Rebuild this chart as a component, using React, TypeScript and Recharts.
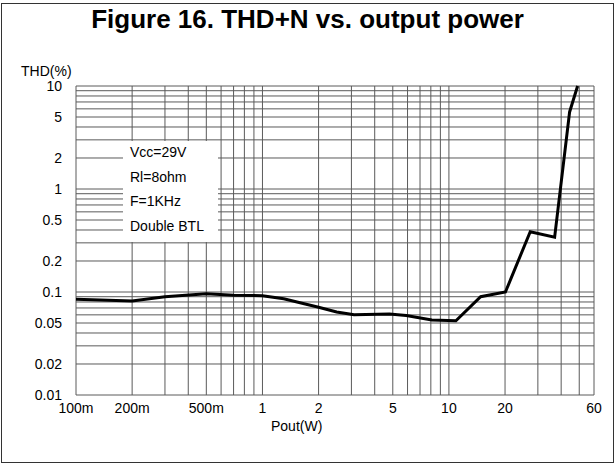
import React from 'react';
import { LineChart, Line, XAxis, YAxis, ReferenceLine } from 'recharts';

// Pout (W) vs THD+N (%)
const pout = [0.1, 0.2, 0.3, 0.5, 0.7, 1, 1.3, 2, 2.5, 3.1, 4.8, 5.9, 8.1, 10.9, 14.8, 20.1, 27.3, 36.9, 44.4, 49];
const thd = [0.085, 0.082, 0.09, 0.096, 0.093, 0.092, 0.086, 0.071, 0.064, 0.06, 0.061, 0.059, 0.0535, 0.0526, 0.09, 0.1, 0.385, 0.34, 5.6, 10];

const xTicks = [0.1, 0.2, 0.5, 1, 2, 5, 10, 20, 60];
const yTicks = [0.01, 0.02, 0.05, 0.1, 0.2, 0.5, 1, 2, 5, 10];
const xDecades = [0.1, 1, 10];
const yDecades = [0.01, 0.1, 1];
const steps = [1, 2, 3, 4, 5, 6, 7, 8, 9];

const notes = ['Vcc=29V', 'Rl=8ohm', 'F=1KHz', 'Double BTL'];

const xGrid = xDecades.flatMap((d) => steps.map((s) => +(d * s).toPrecision(3))).filter((v) => v <= 60);
const yGrid = [...yDecades.flatMap((d) => steps.map((s) => +(d * s).toPrecision(3))), 10];

const data = pout.map((p, i) => ({ pout: p, thd: thd[i] }));

const fmtX = (v: number) => (v < 1 ? `${Math.round(v * 1000)}m` : `${v}`);

const font = '"Liberation Sans", Arial, sans-serif';
const gridColor = '#5a5a5a';

export default function App() {
  return (
    <div
      style={{
        position: 'absolute',
        left: 0,
        top: 0,
        width: 615,
        height: 463,
        background: '#fff',
        fontFamily: font,
      }}
    >
      <div
        style={{
          position: 'absolute',
          left: 1,
          top: 3,
          width: 613,
          height: 460,
          border: '1px solid #333',
          boxSizing: 'border-box',
        }}
      />
      <div
        style={{
          position: 'absolute',
          left: 0,
          width: 615,
          top: 4,
          textAlign: 'center',
          fontSize: 26,
          fontWeight: 'bold',
          color: '#000',
          lineHeight: '30px',
        }}
      >
        Figure 16. THD+N vs. output power
      </div>
      <div style={{ position: 'absolute', left: 21, top: 63, fontSize: 14, lineHeight: '16px' }}>THD(%)</div>
      <div style={{ position: 'absolute', left: 271, top: 418, fontSize: 14, lineHeight: '16px' }}>Pout(W)</div>

      <div style={{ position: 'absolute', left: 0, top: 0 }}>
        <LineChart width={612} height={463} data={data} margin={{ top: 86, right: 18, bottom: 38, left: 0 }}>
          <XAxis
            dataKey="pout"
            type="number"
            scale="log"
            domain={[0.1, 60]}
            ticks={xTicks}
            tickFormatter={fmtX}
            axisLine={false}
            tickLine={false}
            height={30}
            interval={0}
            tick={{ fontSize: 14, fill: '#000', fontFamily: font }}
          />
          <YAxis
            type="number"
            scale="log"
            domain={[0.01, 10]}
            ticks={yTicks}
            axisLine={false}
            tickLine={false}
            width={76}
            interval={0}
            tickMargin={8}
            tick={{ fontSize: 14, fill: '#000', fontFamily: font }}
          />
          {yGrid.map((v) => (
            <ReferenceLine key={`y${v}`} y={v} stroke={gridColor} strokeWidth={1} />
          ))}
          {xGrid.map((v) => (
            <ReferenceLine key={`x${v}`} x={v} stroke={gridColor} strokeWidth={1} />
          ))}
          <Line
            dataKey="thd"
            type="linear"
            stroke="#000"
            strokeWidth={3}
            dot={false}
            isAnimationActive={false}
          />
        </LineChart>
      </div>

      {/* white panel behind the test conditions */}
      <div style={{ position: 'absolute', left: 123, top: 141, width: 95, height: 101, background: '#fff' }} />
      {notes.map((n, i) => (
        <div key={n} style={{ position: 'absolute', left: 130, top: 144 + i * 24.7, fontSize: 14, lineHeight: '16px' }}>
          {n}
        </div>
      ))}
    </div>
  );
}
